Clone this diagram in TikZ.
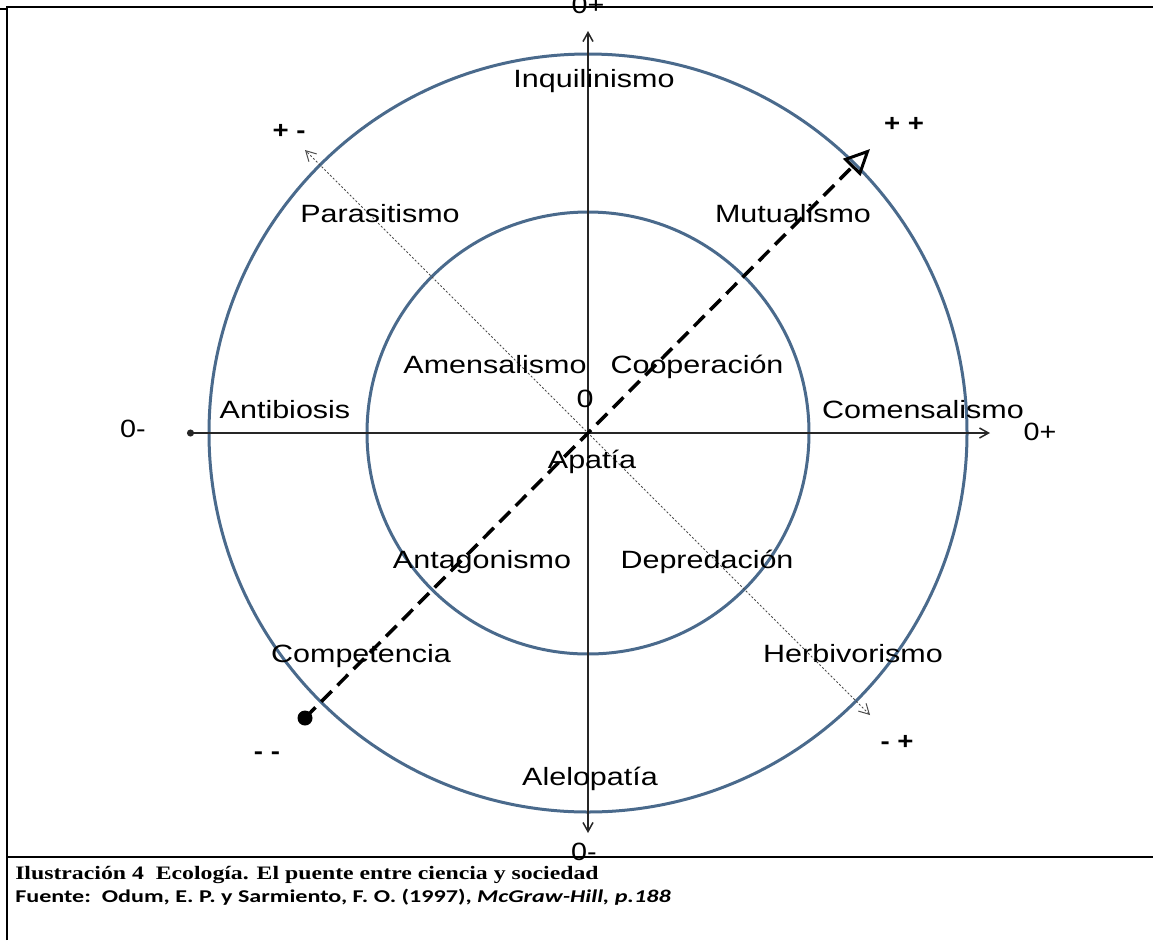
\documentclass[tikz,border=0pt]{standalone}
\usepackage{fontspec}
\usetikzlibrary{arrows.meta}
\newfontfamily\arialf{Liberation Sans}
\newfontfamily\timesf{Liberation Serif}
\newfontfamily\calibf{Carlito}
\definecolor{ringblue}{HTML}{4A6A8C}
\tikzset{
  lbl/.style={font=\arialf\fontsize{25}{30}\selectfont, inner sep=0pt, anchor=base, xscale=1.22},
  sgn/.style={font=\arialf\bfseries\fontsize{24}{28}\selectfont, inner sep=0pt, anchor=base, xscale=1.15},
  zlbl/.style={font=\arialf\fontsize{25}{30}\selectfont, inner sep=0pt, anchor=base, xscale=1.15},
  ring/.style={draw=ringblue, line width=3pt},
  axis/.style={draw=black!85, line width=1.5pt},
  frameline/.style={draw=black, line width=2pt}
}
\begin{document}
\begin{tikzpicture}[x=1pt,y=-1pt]
    \useasboundingbox (0,0) rectangle (1153,940);

    % frame
    \draw[frameline] (7,940) -- (7,7) -- (1153,7);
    \draw[frameline] (7,857) -- (1153,857);
    \draw[line width=1.5pt] (0,9) -- (7,9);

    % circles
    \draw (588,433) node[circle, ring, minimum size=758pt, inner sep=0pt] (outer) {};
    \draw (588,433) node[circle, ring, minimum size=442pt, inner sep=0pt] (inner) {};

    % axes
    \draw (187,433) coordinate (xl);
    \draw (990,433) coordinate (xr);
    \draw (588,31) coordinate (yt);
    \draw (588,833) coordinate (yb);
    \draw[axis, {Circle[length=7pt]}-{Straight Barb[length=9pt,width=10pt]}] (xl) -- (xr);
    \draw[axis, {Straight Barb[length=9pt,width=10pt]}-{Straight Barb[length=9pt,width=10pt]}] (yb) -- (yt);

    % diagonals
    \draw (305,150) coordinate (pm);
    \draw (870,715) coordinate (mp);
    \draw[black!70, line width=1pt, dash pattern=on 2pt off 2pt,
          {Straight Barb[length=10pt,width=11pt]}-{Straight Barb[length=10pt,width=11pt]}] (mp) -- (pm);
    \draw (305,718) node[circle, fill=black, minimum size=15pt, inner sep=0pt] (mm) {};
    \draw (870,149) coordinate (pp);
    \draw[line width=3.5pt, dash pattern=on 15pt off 8pt,
          -{Triangle[open, length=26pt, width=24pt, line width=3pt]}] (mm.center) -- (pp);

    % axis ends
    \draw (133,437) node[zlbl] (zl) {0-};
    \draw (1040,440) node[zlbl] (zr) {0+};
    \draw (588,13) node[zlbl] (zt) {0+};
    \draw (584,860) node[zlbl] (zb) {0-};
    \draw (289,138) node[sgn] (spm) {+ -};
    \draw (904,131) node[sgn] (spp) {+ +};
    \draw (267,759) node[sgn] (smm) {- -};
    \draw (897,749) node[sgn] (smp) {- +};
    \draw (585,407) node[lbl] (zero) {0};

    % interactions
    \draw (594,87) node[lbl] (inq) {Inquilinismo};
    \draw (380,222) node[lbl] (par) {Parasitismo};
    \draw (793,222) node[lbl] (mut) {Mutualismo};
    \draw (495,373) node[lbl] (ame) {Amensalismo};
    \draw (697,373) node[lbl] (coo) {Cooperación};
    \draw (285,418) node[lbl] (ant) {Antibiosis};
    \draw (923,418) node[lbl] (com) {Comensalismo};
    \draw (592,468) node[lbl] (apa) {Apatía};
    \draw (482,568) node[lbl] (aga) {Antagonismo};
    \draw (707,568) node[lbl] (dep) {Depredación};
    \draw (361,662) node[lbl] (cpt) {Competencia};
    \draw (853,662) node[lbl] (her) {Herbivorismo};
    \draw (590,785) node[lbl] (ale) {Alelopatía};

    % caption
    \draw (15,879) node[anchor=base west, inner sep=0pt, xscale=1.25,
        font=\timesf\bfseries\fontsize{19}{22}\selectfont] (cap) {Ilustración 4\ \ Ecología. El puente entre ciencia y sociedad};
    \draw (15,902) node[anchor=base west, inner sep=0pt, xscale=1.34,
        font=\calibf\bfseries\fontsize{18}{22}\selectfont] (src) {Fuente:\ \ Odum, E. P. y Sarmiento, F. O. (1997), \textit{McGraw-Hill, p.188}};
\end{tikzpicture}
\end{document}
